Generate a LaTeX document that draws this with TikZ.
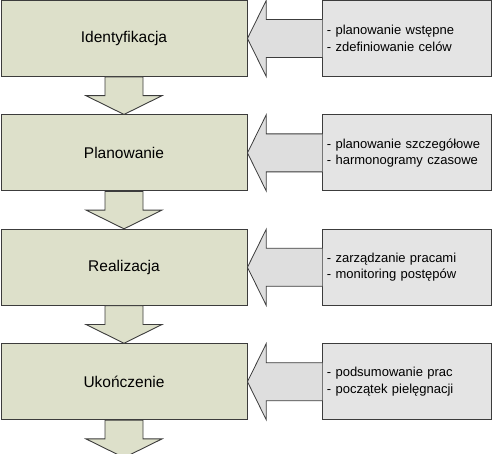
\documentclass[tikz,border=0pt]{standalone}
\usepackage{fontspec}
\setmainfont{Liberation Sans}
\usepackage{tikz}
\usetikzlibrary{calc,positioning}
\definecolor{fazaziel}{RGB}{221,224,202}
\definecolor{opisszary}{RGB}{228,228,228}
\definecolor{bokszary}{RGB}{222,222,222}
\definecolor{ramka}{RGB}{60,60,60}

\begin{document}
\begin{tikzpicture}[x=1pt,y=-1pt,
    node distance=37.5pt,
    faza/.style={draw=ramka,line width=0.9pt,fill=fazaziel,minimum width=246pt,
      minimum height=76pt,inner sep=0pt,font=\fontsize{15.5}{18}\selectfont},
    opis/.style={draw=ramka,line width=0.9pt,fill=opisszary,minimum width=169pt,
      minimum height=76pt,text width=161pt,inner xsep=4pt,inner ysep=0pt,align=left,
      font=\fontsize{13}{16.5}\selectfont},
    strzdol/.style={draw=ramka,line width=0.9pt,fill=fazaziel,line join=miter},
    strzbok/.style={draw=ramka,line width=0.8pt,fill=bokszary,line join=miter}]
  \useasboundingbox (0,0) rectangle (492,454);
  % fazy
  \node[faza] (ident) at (124,38.5) {Identyfikacja};
  \node[faza,below=of ident] (plan) {Planowanie};
  \node[faza,below=of plan] (real) {Realizacja};
  \node[faza,below=of real] (ukon) {Ukończenie};
  \coordinate (koniec) at ($(ukon.south)+(0,37.5)$);
  % opisy
  \node[opis,right=75pt of ident] (opisI) {- planowanie wstępne\\- zdefiniowanie celów};
  \node[opis,right=75pt of plan] (opisP) {- planowanie szczegółowe\\- harmonogramy czasowe};
  \node[opis,right=75pt of real] (opisR) {- zarządzanie pracami\\- monitoring postępów};
  \node[opis,right=75pt of ukon] (opisU) {- podsumowanie prac\\- początek pielęgnacji};
  % strzalki w dol
  \draw[strzdol] ($(ident.south)+(-19,0)$) -- ($(ident.south)!.5!(plan.north)+(-19,0)$)
    -- ($(ident.south)!.5!(plan.north)+(-38,0)$) -- (plan.north)
    -- ($(ident.south)!.5!(plan.north)+(38,0)$) -- ($(ident.south)!.5!(plan.north)+(19,0)$)
    -- ($(ident.south)+(19,0)$) -- cycle;
  \draw[strzdol] ($(plan.south)+(-19,0)$) -- ($(plan.south)!.5!(real.north)+(-19,0)$)
    -- ($(plan.south)!.5!(real.north)+(-38,0)$) -- (real.north)
    -- ($(plan.south)!.5!(real.north)+(38,0)$) -- ($(plan.south)!.5!(real.north)+(19,0)$)
    -- ($(plan.south)+(19,0)$) -- cycle;
  \draw[strzdol] ($(real.south)+(-19,0)$) -- ($(real.south)!.5!(ukon.north)+(-19,0)$)
    -- ($(real.south)!.5!(ukon.north)+(-38,0)$) -- (ukon.north)
    -- ($(real.south)!.5!(ukon.north)+(38,0)$) -- ($(real.south)!.5!(ukon.north)+(19,0)$)
    -- ($(real.south)+(19,0)$) -- cycle;
  \draw[strzdol] ($(ukon.south)+(-19,0)$) -- ($(ukon.south)!.5!(koniec)+(-19,0)$)
    -- ($(ukon.south)!.5!(koniec)+(-38,0)$) -- (koniec)
    -- ($(ukon.south)!.5!(koniec)+(38,0)$) -- ($(ukon.south)!.5!(koniec)+(19,0)$)
    -- ($(ukon.south)+(19,0)$) -- cycle;
  % strzalki z boku
  \draw[strzbok] ($(opisI.west)+(0,-19)$) -- ($(ident.east)!.25!(opisI.west)+(0,-19)$)
    -- ($(ident.east)!.25!(opisI.west)+(0,-38)$) -- (ident.east)
    -- ($(ident.east)!.25!(opisI.west)+(0,38)$) -- ($(ident.east)!.25!(opisI.west)+(0,19)$)
    -- ($(opisI.west)+(0,19)$);
  \draw[strzbok] ($(opisP.west)+(0,-19)$) -- ($(plan.east)!.25!(opisP.west)+(0,-19)$)
    -- ($(plan.east)!.25!(opisP.west)+(0,-38)$) -- (plan.east)
    -- ($(plan.east)!.25!(opisP.west)+(0,38)$) -- ($(plan.east)!.25!(opisP.west)+(0,19)$)
    -- ($(opisP.west)+(0,19)$);
  \draw[strzbok] ($(opisR.west)+(0,-19)$) -- ($(real.east)!.25!(opisR.west)+(0,-19)$)
    -- ($(real.east)!.25!(opisR.west)+(0,-38)$) -- (real.east)
    -- ($(real.east)!.25!(opisR.west)+(0,38)$) -- ($(real.east)!.25!(opisR.west)+(0,19)$)
    -- ($(opisR.west)+(0,19)$);
  \draw[strzbok] ($(opisU.west)+(0,-19)$) -- ($(ukon.east)!.25!(opisU.west)+(0,-19)$)
    -- ($(ukon.east)!.25!(opisU.west)+(0,-38)$) -- (ukon.east)
    -- ($(ukon.east)!.25!(opisU.west)+(0,38)$) -- ($(ukon.east)!.25!(opisU.west)+(0,19)$)
    -- ($(opisU.west)+(0,19)$);
\end{tikzpicture}
\end{document}
